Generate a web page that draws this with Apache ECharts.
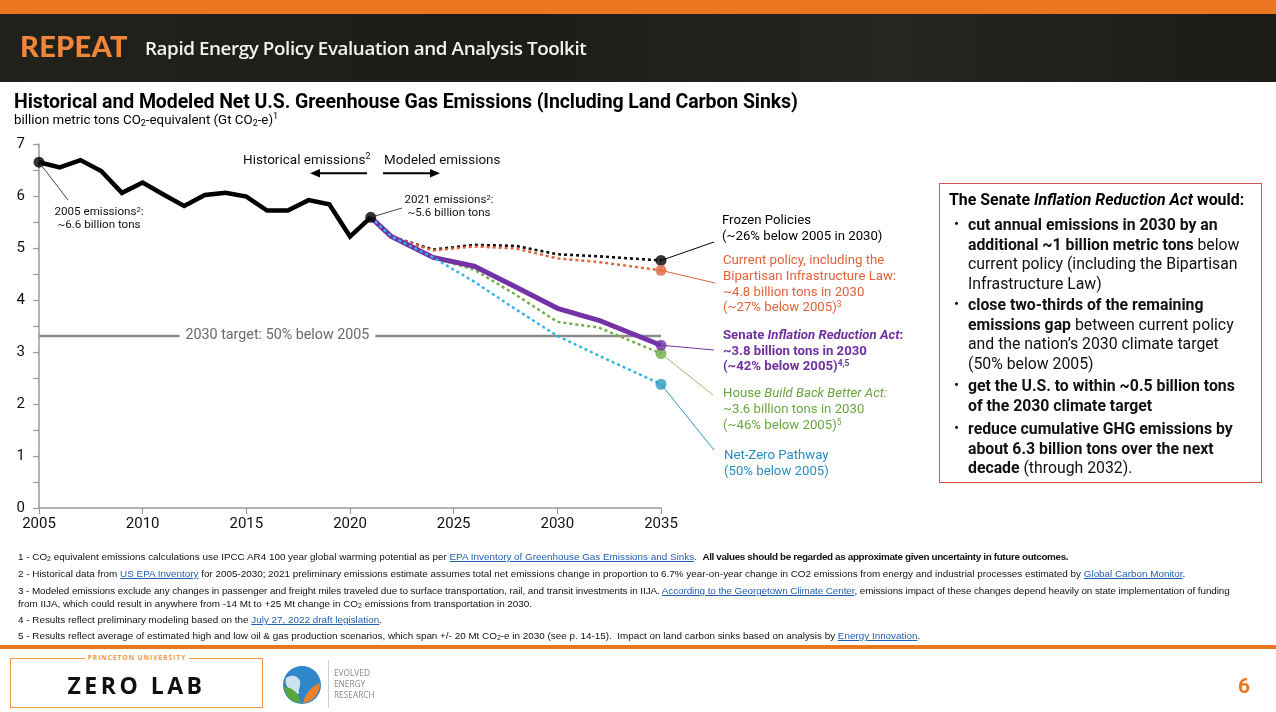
<!DOCTYPE html>
<html>
<head>
<meta charset="utf-8">
<script src="https://cdn.jsdelivr.net/npm/echarts@6/dist/echarts.min.js"></script>
<style>
  html,body{margin:0;padding:0;width:1276px;height:712px;overflow:hidden;background:#fff;font-family:Roboto,sans-serif;}
  .abs{position:absolute;}
  #topbar{left:0;top:0;width:1276px;height:14px;background:#ec7520;}
  #band{left:0;top:14px;width:1276px;height:68px;background:linear-gradient(90deg,#22221c,#1d1d18 40%,#262620 70%,#1c1c17);}
  #repeat{left:20px;top:28px;font-family:Lato,'Open Sans',sans-serif;font-weight:900;font-size:29px;color:#f0863a;letter-spacing:0.3px;}
  #toolkit{left:145px;top:35px;font-family:'Open Sans',sans-serif;font-weight:600;font-size:18.8px;color:#f2f2f2;letter-spacing:-0.4px;}
  #title{left:14px;top:90px;font-weight:700;font-size:19.5px;color:#000;white-space:nowrap;letter-spacing:-0.1px;}
  #subtitle{left:14px;top:111px;font-size:13.3px;color:#000;white-space:nowrap;}
  #subtitle sub{font-size:9px;vertical-align:-2px;}
  #subtitle sup{font-size:9px;vertical-align:5px;}
  #box{left:939px;top:183px;width:321px;height:298px;border:1.6px solid #d4534c;}
  #box .t{position:absolute;left:9px;top:6px;font-weight:700;font-size:15.9px;white-space:nowrap;}
  #box .li{position:absolute;left:28px;font-size:15.8px;line-height:19.6px;white-space:nowrap;color:#111;}
  #box .li:before{content:'•';position:absolute;left:-14px;top:0;font-size:15px;}
  #notes{left:18px;top:550px;font-family:'Liberation Sans',Arial,sans-serif;font-size:9.9px;color:#111;white-space:nowrap;}
  #notes div{position:absolute;left:0;}
  #notes b{letter-spacing:-0.35px;}
  #notes a{color:#1f5fb4;text-decoration:underline;}
  #notes sub{font-size:7px;vertical-align:-1px;}
  #footline{left:0;top:645px;width:1276px;height:4px;background:#e8771f;}
  #zl{left:10px;top:658px;width:251px;height:48px;border:1.6px solid #ef9a4a;}
  #pu{left:85px;top:653px;width:104px;text-align:center;background:#fff;font-family:'Open Sans',sans-serif;font-weight:700;font-size:6.6px;letter-spacing:1px;color:#ef9a4a;}
  #zltext{left:10px;top:669px;width:253px;text-align:center;font-family:'Open Sans',sans-serif;font-weight:700;font-size:23px;letter-spacing:3.5px;color:#111;}
  #vline{left:328px;top:660px;width:1px;height:48px;background:#cfcfcf;}
  #eer{left:334px;top:667px;font-family:'Open Sans',sans-serif;font-size:8.3px;line-height:11.2px;color:#8a8a8a;}
  #globe{left:282px;top:665px;}
  #page{left:1238px;top:674px;font-weight:700;font-size:21px;color:#ec7520;}
  #chart{position:absolute;left:0;top:0;width:1276px;height:712px;z-index:1;}
  .txt{z-index:2;}
</style>
</head>
<body>
<div id="topbar" class="abs"></div>
<div id="band" class="abs"></div>
<div id="repeat" class="abs txt">REPEAT</div>
<div id="toolkit" class="abs txt">Rapid Energy Policy Evaluation and Analysis Toolkit</div>
<div id="title" class="abs txt">Historical and Modeled Net U.S. Greenhouse Gas Emissions (Including Land Carbon Sinks)</div>
<div id="subtitle" class="abs txt">billion metric tons CO<sub>2</sub>-equivalent (Gt CO<sub>2</sub>-e)<sup>1</sup></div>

<div id="box" class="abs txt">
  <div class="t">The Senate <i>Inflation Reduction Act</i> would:</div>
  <div class="li" style="top:31px"><b>cut annual emissions in 2030 by an<br>additional ~1 billion metric tons</b> below<br>current policy (including the Bipartisan<br>Infrastructure Law)</div>
  <div class="li" style="top:111px"><b>close two-thirds of the remaining<br>emissions gap</b> between current policy<br>and the nation’s 2030 climate target<br>(50% below 2005)</div>
  <div class="li" style="top:192px"><b>get the U.S. to within ~0.5 billion tons<br>of the 2030 climate target</b></div>
  <div class="li" style="top:235px"><b>reduce cumulative GHG emissions by<br>about 6.3 billion tons over the next<br>decade</b> (through 2032).</div>
</div>

<div id="notes" class="abs txt">
  <div style="top:1px">1 - CO<sub>2</sub> equivalent emissions calculations use IPCC AR4 100 year global warming potential as per <a>EPA Inventory of Greenhouse Gas Emissions and Sinks</a>.&nbsp; <b>All values should be regarded as approximate given uncertainty in future outcomes.</b></div>
  <div style="top:18px">2 - Historical data from <a>US EPA Inventory</a> for 2005-2030; 2021 preliminary emissions estimate assumes total net emissions change in proportion to 6.7% year-on-year change in CO2 emissions from energy and industrial processes estimated by <a>Global Carbon Monitor</a>.</div>
  <div style="top:35px;letter-spacing:-0.08px">3 - Modeled emissions exclude any changes in passenger and freight miles traveled due to surface transportation, rail, and transit investments in IIJA. <a>According to the Georgetown Climate Center</a>, emissions impact of these changes depend heavily on state implementation of funding</div>
  <div style="top:48px">from IIJA, which could result in anywhere from -14 Mt to +25 Mt change in CO<sub>2</sub> emissions from transportation in 2030.</div>
  <div style="top:64px">4 - Results reflect preliminary modeling based on the <a>July 27, 2022 draft legislation</a>.</div>
  <div style="top:80px">5 - Results reflect average of estimated high and low oil &amp; gas production scenarios, which span +/- 20 Mt CO<sub>2</sub>-e in 2030 (see p. 14-15).&nbsp; Impact on land carbon sinks based on analysis by <a>Energy Innovation</a>.</div>
</div>

<div id="footline" class="abs"></div>
<div id="zl" class="abs"></div>
<div id="pu" class="abs txt">PRINCETON UNIVERSITY</div>
<div id="zltext" class="abs txt">ZERO LAB</div>
<svg id="globe" class="abs" width="40" height="40" viewBox="0 0 40 40">
  <circle cx="20" cy="20" r="19" fill="#2f86c9"/>
  <path d="M4 13 C10 9 16 11 18 16 C19 20 16 24 17 29 C13 29 9 26 7 24 C4 21 3 17 4 13Z" fill="#e9f3fb" opacity="0.85"/>
  <path d="M2 22 C8 22 16 25 19 38 C10 38 3 31 2 22Z" fill="#5aa63a"/>
  <path d="M38 18 C32 20 24 26 21 38 C31 37 38 29 38 18Z" fill="#e9822b"/>
</svg>
<div id="vline" class="abs"></div>
<div id="eer" class="abs txt">EVOLVED<br>ENERGY<br>RESEARCH</div>
<div id="page" class="abs txt">6</div>

<div id="chart"></div>
<script>
// ---------------- data ----------------
const histYears  = [2005,2006,2007,2008,2009,2010,2011,2012,2013,2014,2015,2016,2017,2018,2019,2020,2021];
const histValues = [6.65,6.55,6.69,6.48,6.06,6.26,6.03,5.81,6.02,6.06,5.99,5.72,5.72,5.92,5.84,5.22,5.59];
const modelYears = [2021,2022,2024,2026,2028,2030,2032,2035];
const frozenPolicies = [5.59,5.22,4.97,5.06,5.04,4.88,4.84,4.76];
const currentPolicy  = [5.59,5.22,4.95,5.03,4.99,4.80,4.73,4.57];
const senateIRA      = [5.59,5.22,4.82,4.65,4.25,3.84,3.61,3.13];
const houseBBB       = [5.59,5.22,4.82,4.58,4.10,3.58,3.47,2.97];
const netZero        = [5.59,5.22,4.82,4.35,3.82,3.31,2.93,2.38];
const targetValue = 3.31;
const targetLabelYear = 2016.5;
const xRange = [2005, 2035];
const yRange = [0, 7];

// --------------- chart ----------------
const F = 'Roboto, sans-serif';
const pairs = (xs, ys) => xs.map((x, i) => [x, ys[i]]);
const last = arr => arr[arr.length - 1];

const scenarios = [
  {name:'Frozen Policies', values: frozenPolicies, line:'#111111', dot:'#000000', width:2.6, dash:[3,3], z:3},
  {name:'Current policy', values: currentPolicy, line:'#e3643a', dot:'#e0623a', width:2.4, dash:[3,3], z:3},
  {name:'House BBB', values: houseBBB, line:'#6fae45', dot:'#6fae45', width:2.4, dash:[3,3], z:4},
  {name:'Senate IRA', values: senateIRA, line:'#7432a6', dot:'#7432a6', width:5, dash:'solid', z:5},
  {name:'Net-Zero', values: netZero, line:'#32b2e8', dot:'#2a97bf', width:2.4, dash:[3,3], z:6}
];

const series = [
  {type:'line', name:'target', data: pairs(xRange, [targetValue, targetValue]), symbol:'none', silent:true,
   lineStyle:{color:'#8a8a8a', width:2.5}, z:1},
  {type:'line', name:'Historical', data: pairs(histYears, histValues), symbol:'none',
   lineStyle:{color:'#000', width:4.5, join:'miter'}, z:7}
];
scenarios.forEach(s => series.push({
  type:'line', name:s.name, data: pairs(modelYears, s.values), symbol:'none',
  lineStyle:{color:s.line, width:s.width, type:s.dash}, z:s.z
}));
series.push({type:'scatter', name:'ends', symbolSize:11, z:10,
  data: scenarios.map(s => ({value:[last(modelYears), last(s.values)], itemStyle:{color:s.dot}}))});
series.push({type:'scatter', name:'histPoints', symbolSize:11, z:10, itemStyle:{color:'#000'},
  data: [[histYears[0], histValues[0]], [last(histYears), last(histValues)]]});

const option = {
  animation:false,
  grid:{left:39, right:615, top:144, bottom:204, containLabel:false},
  xAxis:{type:'value', min:xRange[0], max:xRange[1], interval:5,
    axisLine:{lineStyle:{color:'#9a9a9a', width:1.5}},
    axisTick:{show:true, length:6, lineStyle:{color:'#9a9a9a', width:1.2}},
    axisLabel:{color:'#111', fontFamily:F, fontSize:15, margin:9, formatter: v => String(v)},
    splitLine:{show:false}},
  yAxis:{type:'value', min:yRange[0], max:yRange[1], interval:1,
    axisLine:{show:true, lineStyle:{color:'#9a9a9a', width:1.5}},
    axisTick:{show:true, length:6, lineStyle:{color:'#9a9a9a', width:1.2}},
    minorTick:{show:true, splitNumber:2, length:6, lineStyle:{color:'#9a9a9a', width:1.2}},
    axisLabel:{color:'#111', fontFamily:F, fontSize:15, margin:14},
    splitLine:{show:false}},
  series
};
const chart = echarts.init(document.getElementById('chart'));
chart.setOption(option);

// --------------- annotations ----------------
const px = (x, y) => chart.convertToPixel({gridIndex:0}, [x, y]);
const sup = {fontSize:8.5, verticalAlign:'top', lineHeight:9};
function block(x, y, text, fill, size, lh, extraRich) {
  const rich = Object.assign({
    n:{fontSize:size, fontFamily:F, fill:fill, lineHeight:lh},
    b:{fontSize:size, fontFamily:F, fill:fill, lineHeight:lh, fontWeight:'bold'},
    i:{fontSize:size, fontFamily:F, fill:fill, lineHeight:lh, fontStyle:'italic'},
    bi:{fontSize:size, fontFamily:F, fill:fill, lineHeight:lh, fontWeight:'bold', fontStyle:'italic'},
    s:Object.assign({fontFamily:F, fill:fill}, sup)
  }, extraRich || {});
  return {type:'text', x, y, z:20, style:{text, rich, fill, fontFamily:F, fontSize:size, lineHeight:lh, align:'left', verticalAlign:'top'}};
}
function leader(from, to, color, w) {
  return {type:'line', z:15, shape:{x1:from[0], y1:from[1], x2:to[0], y2:to[1]}, style:{stroke:color, lineWidth:w || 1}};
}
const endYear = last(modelYears);
const gEls = [];
// target label on the target line
const tp = px(targetLabelYear, targetValue);
gEls.push({type:'text', x:tp[0], y:tp[1], z:20, style:{text:'2030 target: 50% below 2005', fill:'#6a6a6a', fontFamily:F, fontSize:14.3,
  align:'center', verticalAlign:'middle', backgroundColor:'#fff', padding:[2,6]}});
// scenario labels
gEls.push(block(722, 212, '{n|Frozen Policies}\n{n|(~26% below 2005 in 2030)}', '#000', 13.2, 16.5));
gEls.push(block(723, 253, '{n|Current policy, including the}\n{n|Bipartisan Infrastructure Law:}\n{n|~4.8 billion tons in 2030}\n{n|(~27% below 2005)}{s|3}', '#e0633a', 13.2, 15.7));
gEls.push(block(723, 328, '{b|Senate }{bi|Inflation Reduction Act}{b|:}\n{b|~3.8 billion tons in 2030}\n{b|(~42% below 2005)}{sb|4,5}', '#7030a0', 13.2, 15.6,
  {sb:Object.assign({fontFamily:F, fill:'#7030a0', fontWeight:'bold'}, sup)}));
gEls.push(block(723, 386, '{n|House }{i|Build Back Better Act:}\n{n|~3.6 billion tons in 2030}\n{n|(~46% below 2005)}{s|5}', '#6aa842', 13.2, 16));
gEls.push(block(724, 448, '{n|Net-Zero Pathway}\n{n|(50% below 2005)}', '#2a8fc0', 13.2, 16));
// leader lines
gEls.push(leader(px(endYear, last(frozenPolicies)), [714, 242], '#000'));
gEls.push(leader(px(endYear, last(currentPolicy)), [715, 283], '#e0633a'));
gEls.push(leader(px(endYear, last(senateIRA)), [714, 350], '#7432a6'));
gEls.push(leader(px(endYear, last(houseBBB)), [713, 395], '#8fc06a'));
gEls.push(leader(px(endYear, last(netZero)), [714, 450], '#2a97bf'));
// historical point labels
gEls.push(leader(px(histYears[0], histValues[0]), [68, 200], '#333', 0.9));
gEls.push(leader(px(last(histYears), last(histValues)), [402, 208], '#333', 0.9));
const pLab = (cx, y, text) => ({type:'text', x:cx, y, z:20, style:{text, rich:{n:{fontSize:11.6, fontFamily:F, fill:'#111', lineHeight:12.6}, s:{fontSize:7.5, fontFamily:F, fill:'#111', verticalAlign:'top', lineHeight:8}}, align:'center', verticalAlign:'top', fontFamily:F, fontSize:11.6, lineHeight:12.6, fill:'#111'}});
gEls.push(pLab(99, 206, '{n|2005 emissions}{s|2}{n|:}\n{n|~6.6 billion tons}'));
gEls.push(pLab(449, 194, '{n|2021 emissions}{s|2}{n|:}\n{n|~5.6 billion tons}'));
// historical / modeled arrows
gEls.push({type:'text', x:243, y:152, z:20, style:{text:'{n|Historical emissions}{s|2}', rich:{n:{fontSize:13.5, fontFamily:F, fill:'#111', lineHeight:17}, s:{fontSize:9, fontFamily:F, fill:'#111', verticalAlign:'top', lineHeight:10}}, align:'left', verticalAlign:'top'}});
gEls.push({type:'text', x:384, y:152, z:20, style:{text:'Modeled emissions', fontSize:13.4, fontFamily:F, fill:'#111', lineHeight:17, align:'left', verticalAlign:'top'}});
gEls.push({type:'line', z:20, shape:{x1:367, y1:173.3, x2:318, y2:173.3}, style:{stroke:'#000', lineWidth:2}});
gEls.push({type:'polygon', z:20, shape:{points:[[310,173.3],[320,169],[320,177.6]]}, style:{fill:'#000'}});
gEls.push({type:'line', z:20, shape:{x1:383, y1:173.3, x2:432, y2:173.3}, style:{stroke:'#000', lineWidth:2}});
gEls.push({type:'polygon', z:20, shape:{points:[[440,173.3],[430,169],[430,177.6]]}, style:{fill:'#000'}});

chart.setOption({graphic:{elements:gEls}});
</script>
</body>
</html>
